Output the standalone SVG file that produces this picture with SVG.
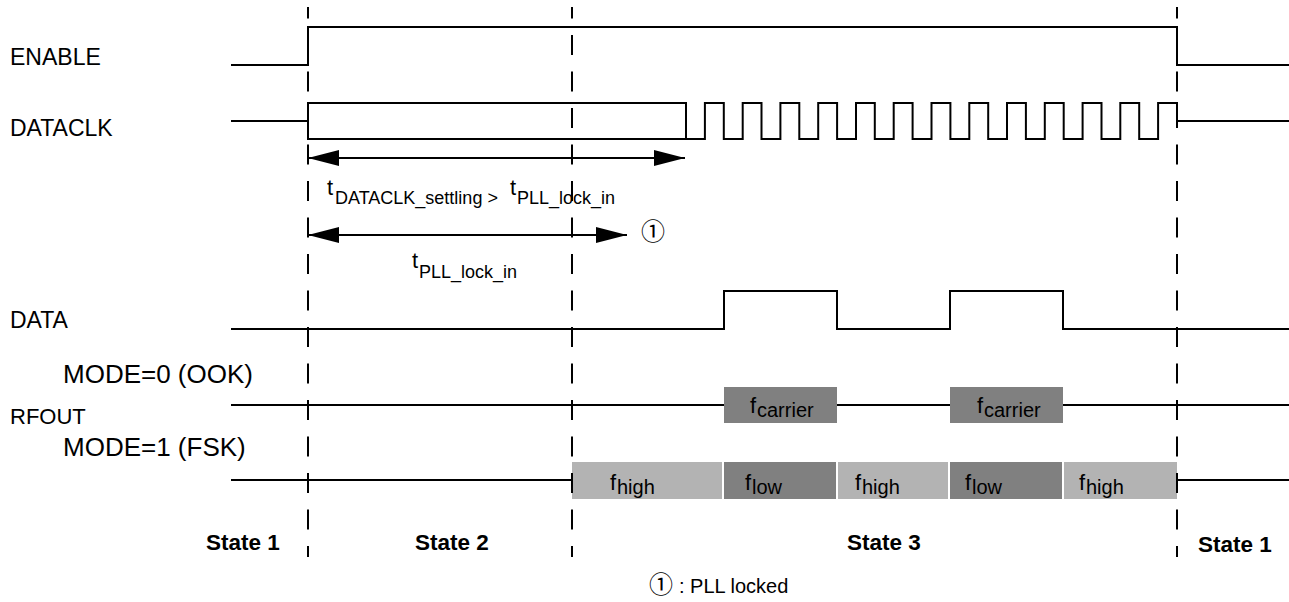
<svg xmlns="http://www.w3.org/2000/svg" width="1289" height="602" viewBox="0 0 1289 602">
<style>
.sig{fill:none;stroke:#000;stroke-width:2}
.dash{fill:none;stroke:#000;stroke-width:2;stroke-dasharray:20 16.5;stroke-dashoffset:8.5}
.lbl{font-family:"Liberation Sans",Arial,sans-serif;font-size:22px;fill:#000}
.big{font-family:"Liberation Sans",Arial,sans-serif;font-size:23px;fill:#000}
.mode{font-family:"Liberation Sans",Arial,sans-serif;font-size:26px;fill:#000}
.note{font-family:"Liberation Sans",Arial,sans-serif;font-size:20px;fill:#000}
.st{font-family:"Liberation Sans",Arial,sans-serif;font-size:22.5px;font-weight:bold;fill:#000}
.sub{font-family:"Liberation Sans",Arial,sans-serif;font-size:18px;fill:#000}
.bsub{font-family:"Liberation Sans",Arial,sans-serif;font-size:20px;fill:#000}
.cj{font-family:"Noto Sans CJK JP","DejaVu Sans",sans-serif;font-size:24px;fill:#000}
.lt{fill:#b3b3b3}
.dk{fill:#808080}
</style>
<defs>
<marker id="ah" viewBox="0 0 31 16" refX="31" refY="8" markerWidth="31" markerHeight="16" markerUnits="userSpaceOnUse" orient="auto-start-reverse">
<path d="M0,0 L31,8 L0,16 z" fill="#000"/>
</marker>
</defs>
<rect width="1289" height="602" fill="#fff"/>

<g id="labels">
<text class="big" x="10" y="65">ENABLE</text>
<text class="big" x="10" y="136">DATACLK</text>
<text class="big" x="10" y="328">DATA</text>
<text class="mode" x="63" y="383">MODE=0 (OOK)</text>
<text class="lbl" x="10" y="424">RFOUT</text>
<text class="mode" x="63" y="456">MODE=1 (FSK)</text>
</g>

<g id="enable"><path class="sig" d="M231,65 H308 V27 H1177 V65 H1289"/></g>

<g id="dataclk">
<path class="sig" d="M231,121 H308 V103 H686 V139 H704.9 V103 H723.8 V139 H742.7 V103 H761.5 V139 H780.4 V103 H799.3 V139 H818.2 V103 H837.1 V139 H856 V103 H874.8 V139 H893.7 V103 H912.6 V139 H931.5 V103 H950.4 V139 H969.3 V103 H988.2 V139 H1007 V103 H1025.9 V139 H1044.8 V103 H1063.7 V139 H1082.6 V103 H1101.5 V139 H1120.3 V103 H1139.2 V139 H1158.1 V103 H1177 V121 H1289"/>
<path class="sig" d="M308,121 V139 H686"/>
</g>

<g id="data"><path class="sig" d="M231,329 H724 V291 H837 V329 H950 V291 H1063 V329 H1289"/></g>

<g id="rfout-ook">
<path class="sig" d="M231,405 H724 M837,405 H950 M1063,405 H1289"/>
<rect class="dk" x="724" y="387" width="113" height="36"/>
<rect class="dk" x="950" y="387" width="113" height="36"/>
<text x="750" y="413"><tspan class="lbl">f</tspan><tspan class="bsub" x="757" y="417">carrier</tspan></text>
<text x="977" y="413"><tspan class="lbl">f</tspan><tspan class="bsub" x="984" y="417">carrier</tspan></text>
</g>

<g id="rfout-fsk">
<path class="sig" d="M231,480 H572 M1177,480 H1289"/>
<rect class="lt" x="572" y="462" width="150" height="37"/>
<rect class="dk" x="724" y="462" width="112" height="37"/>
<rect class="lt" x="838" y="462" width="110" height="37"/>
<rect class="dk" x="950" y="462" width="112" height="37"/>
<rect class="lt" x="1064" y="462" width="113" height="37"/>
<text x="610" y="490"><tspan class="lbl">f</tspan><tspan class="bsub" x="617" y="494">high</tspan></text>
<text x="745" y="490"><tspan class="lbl">f</tspan><tspan class="bsub" x="752" y="494">low</tspan></text>
<text x="855" y="490"><tspan class="lbl">f</tspan><tspan class="bsub" x="862" y="494">high</tspan></text>
<text x="965" y="490"><tspan class="lbl">f</tspan><tspan class="bsub" x="972" y="494">low</tspan></text>
<text x="1079" y="490"><tspan class="lbl">f</tspan><tspan class="bsub" x="1086" y="494">high</tspan></text>
</g>

<g id="timing">
<line class="sig" x1="308" y1="158" x2="685" y2="158" marker-start="url(#ah)" marker-end="url(#ah)"/>
<line class="sig" x1="308" y1="235" x2="627" y2="235" marker-start="url(#ah)" marker-end="url(#ah)"/>
<text x="327" y="195"><tspan class="lbl">t</tspan><tspan class="sub" x="335" y="204">DATACLK_settling &gt; </tspan><tspan class="lbl" x="510" y="195">t</tspan><tspan class="sub" x="517" y="204">PLL_lock_in</tspan></text>
<text x="412" y="268"><tspan class="lbl">t</tspan><tspan class="sub" x="419" y="278">PLL_lock_in</tspan></text>
<text class="cj" x="653" y="240" text-anchor="middle">①</text>
</g>

<g id="dashes">
<line class="dash" x1="308" y1="7" x2="308" y2="557"/>
<line class="dash" x1="572" y1="7" x2="572" y2="557"/>
<line class="dash" x1="1177" y1="7" x2="1177" y2="557"/>
</g>

<g id="states">
<text class="st" x="206" y="550">State 1</text>
<text class="st" x="415" y="550">State 2</text>
<text class="st" x="847" y="550">State 3</text>
<text class="st" x="1198" y="552">State 1</text>
</g>

<g id="note">
<text class="cj" x="661" y="593" text-anchor="middle">①</text>
<text class="note" x="679" y="593">: PLL locked</text>
</g>
</svg>
